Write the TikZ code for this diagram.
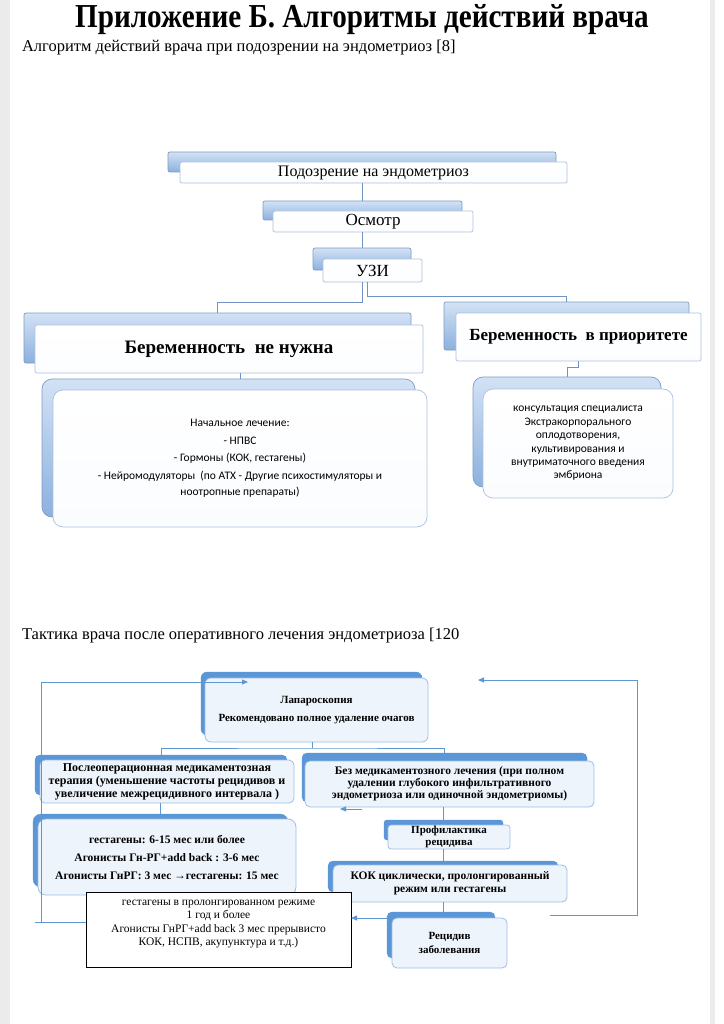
\documentclass[tikz,border=0pt]{standalone}
\usepackage{fontspec}
\setmainfont{Liberation Serif}
\newfontfamily\calfont{Carlito}
\newfontfamily\titlefont[FakeStretch=0.87]{Liberation Serif}
\usetikzlibrary{calc,arrows.meta}
\definecolor{ubt}{HTML}{D3E2F5}
\definecolor{ubb}{HTML}{8CB0DE}
\definecolor{ubd}{HTML}{7F9CC4}
\definecolor{ufd}{HTML}{A9C1E0}
\definecolor{ucon}{HTML}{6F93C4}
\definecolor{lob}{HTML}{5B96D6}
\definecolor{lof}{HTML}{EEF4FB}
\definecolor{lofd}{HTML}{9DBFE6}
\definecolor{lcon}{HTML}{5F97D3}
\definecolor{pagegray}{HTML}{EBEBEB}
\begin{document}
\begin{tikzpicture}[x=1pt,y=-1pt,
  every node/.style={inner sep=0pt, outer sep=0pt},
  upback/.style={draw=ubd, line width=0.7pt, top color=ubt, bottom color=ubb, rounded corners=2pt, anchor=north west},
  upfront/.style={draw=ufd, line width=0.7pt, top color=white, bottom color=white!94!ubt, rounded corners=2pt, anchor=north west, align=center},
  bigback/.style={upback, rounded corners=10pt},
  bigfront/.style={upfront, rounded corners=10pt, bottom color=white!90!ubt},
  loback/.style={fill=lob, draw=lob, rounded corners=6pt, anchor=north west},
  lofront/.style={draw=lofd, line width=0.8pt, fill=lof, rounded corners=6pt, anchor=north west, align=center},
  uconn/.style={draw=ucon, line width=0.9pt},
  lconn/.style={draw=lcon, line width=0.8pt},
  larrow/.style={lconn, -{Triangle[length=6pt,width=5pt]}}
]
\fill[white] (0,0) rectangle (723,1024);
\useasboundingbox (0,0) rectangle (723,1024);
\fill[pagegray] (0,0) rectangle (10,1024);
\fill[pagegray] (710,0) rectangle (715,1024);

% headings
\node[anchor=base, font=\titlefont\bfseries\fontsize{33.5}{36}\selectfont] (title) at (362,28) {Приложение Б. Алгоритмы действий врача};
\node[anchor=west, font=\fontsize{16.5}{19}\selectfont] (sub1) at (22,48) {Алгоритм действий врача при подозрении на эндометриоз [8]};
\node[anchor=west, font=\fontsize{16.5}{19}\selectfont] (sub2) at (22,636) {Тактика врача после оперативного лечения эндометриоза [120};

% ---------- upper diagram ----------
\node[upback, minimum width=388pt, minimum height=20pt] (p1b) at (168,152) {};
\node[upfront, minimum width=387pt, minimum height=21pt, font=\fontsize{16}{18}\selectfont] (p1) at (180,162) {Подозрение на эндометриоз};
\node[upback, minimum width=199pt, minimum height=19pt] (p2b) at (263,201) {};
\node[upfront, minimum width=200pt, minimum height=21pt, font=\fontsize{17}{19}\selectfont] (p2) at (273,211) {Осмотр};
\node[upback, minimum width=98pt, minimum height=22pt] (p3b) at (313,248) {};
\node[upfront, minimum width=99pt, minimum height=23pt, font=\fontsize{17}{19}\selectfont] (p3) at (323,259) {УЗИ};

\node[upback, minimum width=387pt, minimum height=50pt] (l1b) at (24,313) {};
\node[upfront, minimum width=388pt, minimum height=48pt, font=\bfseries\fontsize{19}{21}\selectfont] (l1) at (35,325) {Беременность\ \ не нужна};
\node[bigback, minimum width=373pt, minimum height=138pt] (l2b) at (42,379) {};
\node[bigfront, minimum width=374pt, minimum height=137pt, font=\calfont\fontsize{11.5}{16}\selectfont] (l2) at (53,390)
  {Начальное лечение:\\[2pt] - НПВС\\[1pt] - Гормоны (КОК, гестагены)\\[2pt] - Нейромодуляторы\ \ (по АТХ - Другие психостимуляторы и\\ ноотропные препараты)};

\node[upback, minimum width=245pt, minimum height=48pt] (r1b) at (444,302) {};
\node[upfront, minimum width=245pt, minimum height=48pt, font=\bfseries\fontsize{17}{19}\selectfont] (r1) at (456,313) {Беременность\ \ в приоритете};
\node[bigback, minimum width=188pt, minimum height=110pt] (r2b) at (473,377) {};
\node[bigfront, minimum width=190pt, minimum height=109pt, font=\calfont\fontsize{11.5}{13.4}\selectfont] (r2) at (483,389)
  {консультация специалиста\\ Экстракорпорального\\ оплодотворения,\\ культивирования и\\ внутриматочного введения\\ эмбриона};

\draw[uconn] (p1.south -| p2b.north) -- (p2b.north);
\draw[uconn] (p2.south -| p3b.north) -- (p3b.north);
\draw[uconn] (p3.south -| p3b.north) -- ++(0,20) -| (l1b.north);
\draw[uconn] ($(p3.south)+(-5,0)$) -- ++(0,14) -| (r1b.north);
\draw[uconn] (l1.south -| l2.north) -- (l2b.north -| l2.north);
\draw[uconn] (r1.south) -- ++(0,6) -| (r2b.north);

% ---------- lower diagram ----------
\node[loback, minimum width=221pt, minimum height=63pt] (lab) at (201,672) {};
\node[lofront, minimum width=223pt, minimum height=64pt, font=\bfseries\fontsize{11}{18}\selectfont] (la) at (205,678)
  {Лапароскопия\\ Рекомендовано полное удаление очагов};

\node[loback, minimum width=252pt, minimum height=40pt, rounded corners=5pt] (a1b) at (35,755) {};
\node[lofront, minimum width=254pt, minimum height=43pt, rounded corners=5pt, font=\bfseries\fontsize{12}{13}\selectfont] (a1) at (40,760)
  {Послеоперационная медикаментозная\\ терапия (уменьшение частоты рецидивов и\\ увеличение межрецидивного интервала )};
\node[loback, minimum width=255pt, minimum height=73pt, rounded corners=8pt] (a2b) at (33,814) {};
\node[lofront, minimum width=258pt, minimum height=76pt, rounded corners=8pt, font=\bfseries\fontsize{11.5}{18}\selectfont] (a2) at (38,819)
  {гестагены: 6-15 мес или более\\ Агонисты Гн-РГ+add back : 3-6 мес\\ Агонисты ГнРГ: 3 мес →гестагены: 15 мес};

\node[loback, minimum width=285pt, minimum height=49pt, rounded corners=5pt] (b1b) at (302,753) {};
\node[lofront, minimum width=289pt, minimum height=46pt, rounded corners=5pt, font=\bfseries\fontsize{11.5}{12}\selectfont] (b1) at (305,761)
  {Без медикаментозного лечения (при полном\\ удалении глубокого инфильтративного\\ эндометриоза или одиночной эндометриомы)};

\node[loback, minimum width=119pt, minimum height=20pt, rounded corners=3pt] (pb) at (384,820) {};
\node[lofront, minimum width=122pt, minimum height=24pt, rounded corners=3pt, font=\bfseries\fontsize{11}{12.5}\selectfont] (pr) at (388,825)
  {Профилактика\\ рецидива};

\node[loback, minimum width=230pt, minimum height=31pt, rounded corners=5pt] (kb) at (328,861) {};
\node[lofront, minimum width=234pt, minimum height=37pt, rounded corners=5pt, font=\bfseries\fontsize{11.5}{13}\selectfont] (k) at (333,865)
  {КОК циклически, пролонгированный\\ режим или гестагены};

\node[loback, minimum width=108pt, minimum height=46pt, rounded corners=5pt] (rb) at (387,912) {};
\node[lofront, minimum width=115pt, minimum height=50pt, rounded corners=5pt, font=\bfseries\fontsize{11}{14}\selectfont] (rc) at (392,918)
  {Рецидив\\ заболевания};

\node[draw=black, line width=1pt, fill=white, anchor=north west, minimum width=265pt, minimum height=75pt] (bk) at (86,892) {};
\node[align=center, font=\fontsize{11.5}{13.5}\selectfont] (bkt) at ($(bk.center)+(0,-5.5)$)
  {гестагены в пролонгированном режиме\\ 1 год и более\\ Агонисты ГнРГ+add back 3 мес прерывисто\\ КОК, НСПВ, акупунктура и т.д.)};

% lower connectors
\coordinate (j) at (312,748);
\draw[lconn] (la.south -| j) -- (j);
\draw[lconn] (a1b.north) |- (j) -| (b1b.north);
\draw[lconn] (a1.south -| a2b.north) -- (a2b.north);
\draw[lconn] (b1.south -| pb.north) -- (pb.north);
\draw[lconn] (pr.south -| pb.north) -- (kb.north -| pb.north);
\draw[lconn] (k.south -| pb.north) -- (rb.north -| pb.north);
\draw[larrow] ($(b1.south west)+(57,2)$) -- ++(-22,0);
\draw[larrow] ($(rb.north west)+(0,6)$) -- ($(bk.north east)+(0,26)$);

\coordinate (ll) at (41,682);
\coordinate (la0) at (248,682);
\draw[larrow] ($(bk.north west)+(0,30)$) -- ++(-51,0) coordinate (lc) (lc) -| (ll) -- (la0);
\coordinate (rs) at (550,915);
\coordinate (rtop) at (637,680);
\coordinate (ra) at (478,680);
\draw[larrow] (rs) -| (rtop) -- (ra);
\end{tikzpicture}
\end{document}
